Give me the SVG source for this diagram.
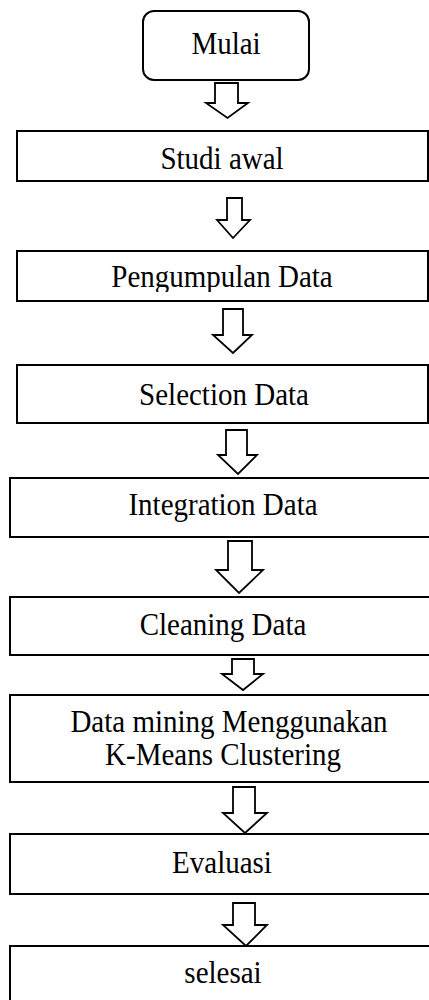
<svg xmlns="http://www.w3.org/2000/svg" width="429" height="1000" viewBox="0 0 429 1000">
  <style>
    .box { fill: #ffffff; stroke: #000000; stroke-width: 2; }
    .arrow { fill: #ffffff; stroke: #000000; stroke-width: 1.8; stroke-linejoin: miter; }
    .label { font-family: "Liberation Serif", "Times New Roman", serif; font-size: 29px; fill: #000000; text-anchor: middle; }
  </style>
  <defs>
    <clipPath id="clip-pengumpulan">
      <rect x="0" y="250" width="429" height="42"/>
    </clipPath>
  </defs>
  <rect width="429" height="1000" fill="#ffffff"/>

  <!-- connectors: outlined block arrows between the steps -->
  <g id="connectors">
    <polygon class="arrow" points="215,83 238,83 238,103 248,103 227.5,118 206,103 215,103"/>
    <polygon class="arrow" points="227,198 242,198 242,220 250,220 233,238 217,220 227,220"/>
    <polygon class="arrow" points="223,309 243,309 243,335 252,335 233,353 213,335 223,335"/>
    <polygon class="arrow" points="226,430 247,430 247,455 257,455 238,474 218,455 226,455"/>
    <polygon class="arrow" points="228,541 252,541 252,570 263,570 239,593 216,570 228,570"/>
    <polygon class="arrow" points="232,659 254,659 254,674 263,674 243,690 222,674 232,674"/>
    <polygon class="arrow" points="233,787 255,787 255,813 267,813 245,833 223,813 233,813"/>
    <polygon class="arrow" points="233,903 255,903 255,925 267,925 246,946 223,925 233,925"/>
  </g>

  <g id="node-mulai">
    <rect class="box" x="143" y="11" width="166" height="69" rx="11" ry="11"/>
    <text class="label" transform="translate(226 54) scale(1 1.1)">Mulai</text>
  </g>

  <g id="node-studi-awal">
    <rect class="box" x="17" y="131" width="411" height="50"/>
    <text class="label" transform="translate(222 169) scale(1 1.1)">Studi awal</text>
  </g>

  <g id="node-pengumpulan">
    <rect class="box" x="17" y="251" width="411" height="50"/>
    <g clip-path="url(#clip-pengumpulan)">
      <text class="label" transform="translate(222 287) scale(1 1.1)">Pengumpulan Data</text>
    </g>
  </g>

  <g id="node-selection">
    <rect class="box" x="17" y="365" width="411" height="58"/>
    <text class="label" transform="translate(224 405) scale(1 1.1)">Selection Data</text>
  </g>

  <g id="node-integration">
    <rect class="box" x="10" y="478" width="430" height="59"/>
    <text class="label" transform="translate(223 515) scale(1 1.1)">Integration Data</text>
  </g>

  <g id="node-cleaning">
    <rect class="box" x="10" y="597" width="430" height="58"/>
    <text class="label" transform="translate(223 635) scale(1 1.1)">Cleaning Data</text>
  </g>

  <g id="node-data-mining">
    <rect class="box" x="10" y="695" width="430" height="87"/>
    <text class="label" transform="translate(229 732) scale(1 1.1)">Data mining Menggunakan</text>
    <text class="label" transform="translate(223 765) scale(1 1.1)">K-Means Clustering</text>
  </g>

  <g id="node-evaluasi">
    <rect class="box" x="10" y="834" width="430" height="60"/>
    <text class="label" transform="translate(222 873) scale(1 1.1)">Evaluasi</text>
  </g>

  <g id="node-selesai">
    <rect class="box" x="10" y="946" width="430" height="70"/>
    <text class="label" transform="translate(223 983) scale(1 1.1)">selesai</text>
  </g>
</svg>
